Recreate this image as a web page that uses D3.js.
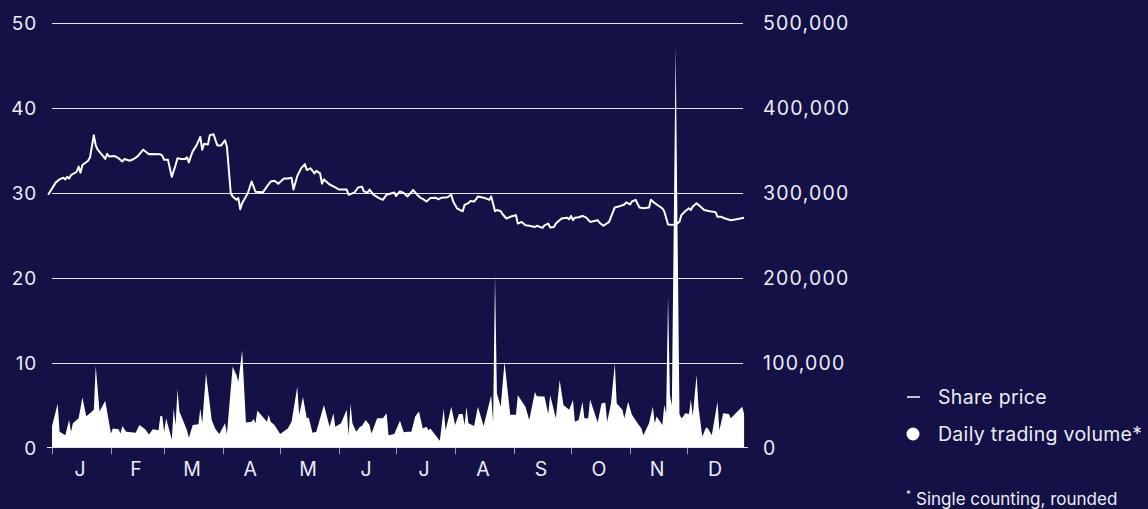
<!DOCTYPE html>
<html>
<head>
<meta charset="utf-8">
<script src="https://cdn.jsdelivr.net/npm/d3@7"></script>
<style>
  html, body { margin: 0; padding: 0; background: #131146; }
  svg { display: block; }
  text { font-family: Inter, "Noto Sans", sans-serif; fill: #ececf4; }
</style>
</head>
<body>
<svg id="chart" width="1148" height="509"></svg>
<script>
// Share price (EUR) by day of year (0 = 1 January)
const priceDays = [-2, 2, 4, 6, 7, 8, 9, 10, 13, 14, 15, 16, 19, 20, 22, 23, 24, 27, 28, 29, 30, 33, 35, 37, 38, 41, 43, 45, 48, 51, 52, 57, 58, 59, 61, 63, 65, 66, 68, 70, 71, 72, 73, 74, 76, 78, 79, 80, 82, 83, 85, 86, 87, 89, 91, 92,
  94, 95, 97, 98, 99, 100, 102, 103, 105, 107, 111, 113, 115, 117, 119, 122, 124, 126, 127, 129, 131, 133, 134, 136, 138, 139, 141, 142, 143, 146, 149, 151, 155, 156, 159, 161, 163, 164, 166, 167, 169, 172, 174, 176, 180, 181, 183, 185, 187, 190, 192,
  194, 195, 197, 199, 202, 203, 205, 208, 210, 211, 213, 216, 217, 219, 220, 222, 223, 224, 227, 230, 231, 233, 234, 236, 237, 239, 241, 244, 245, 247, 249, 251, 254, 255, 258, 259, 261, 262, 264, 265, 268, 271, 272, 273, 274, 275, 277, 279, 281, 283, 287, 288, 290,
  293, 294, 296, 298, 301, 302, 304, 305, 307, 308, 309, 311, 314, 315, 317, 319, 321, 322, 324, 326, 328, 330, 331, 333, 335, 336, 337, 339, 341, 343, 346, 349, 350, 352, 354, 357, 360, 364];
const priceValues = [29.8, 31.25, 31.6, 31.8, 31.6, 31.9, 31.7, 32.1, 32.5, 33.1, 32.4, 33.3, 33.8, 34.2, 36.8, 35.6, 35.1, 34.3, 34.0, 34.6, 34.3, 34.35, 34.1, 33.7, 34.0, 33.8, 34.0, 34.3, 35.1, 34.55, 34.6, 34.55, 34.4, 33.9, 33.9, 31.9, 33.3, 34.1, 34.0, 34.0, 34.2, 33.6, 34.3, 34.9, 35.6, 36.6, 35.1, 35.8, 35.7, 36.8, 36.9, 36.2, 35.6, 35.6, 36.2, 35.45,
  30.0, 29.6, 29.2, 29.4, 28.1, 28.8, 29.6, 30.0, 31.35, 30.15, 30.1, 30.75, 31.35, 31.45, 31.1, 31.7, 31.7, 31.8, 30.4, 32.0, 32.9, 33.4, 32.7, 32.9, 32.3, 32.6, 32.3, 31.1, 31.6, 31.0, 30.65, 30.4, 30.4, 29.8, 30.05, 30.65, 30.75, 30.2, 30.05, 30.4, 29.8, 29.4, 29.2, 29.8, 30.05, 29.65, 30.2, 30.0, 29.6, 30.35, 29.8,
  29.4, 29.3, 29.0, 29.4, 29.45, 29.25, 29.45, 29.5, 29.8, 29.0, 28.2, 27.85, 28.6, 28.8, 29.05, 29.0, 29.25, 29.6, 29.45, 29.2, 29.6, 27.85, 28.0, 27.85, 27.5, 27.0, 27.2, 27.4, 26.4, 26.6, 26.2, 26.15, 26.0, 26.15, 25.9, 26.2, 26.4, 25.95, 26.0, 26.4, 27.0, 27.1, 26.9, 27.3, 26.8, 27.1, 27.15, 27.3, 27.1, 26.6, 26.8, 26.5, 26.15,
  26.6, 27.2, 28.3, 28.4, 28.65, 28.9, 28.65, 29.0, 29.2, 28.7, 28.3, 28.2, 28.3, 29.2, 28.8, 28.5, 28.2, 27.85, 26.3, 26.25, 26.3, 26.6, 27.4, 27.85, 28.2, 28.0, 28.4, 28.8, 28.4, 28.0, 27.85, 27.75, 27.2, 27.2, 27.0, 26.8, 26.9, 27.1];

// Daily trading volume (shares) by day of year
const volumeDays = [0, 3, 4, 7, 9, 10, 11, 14, 16, 18, 20, 22, 23, 25, 28, 31, 32, 35, 36, 37, 39, 44, 46, 49, 51, 53, 56, 57, 58, 59, 60, 63, 64, 65, 66, 67, 71, 72, 74, 77, 78, 79, 81, 84, 86, 88, 91, 92,
  95, 97, 98, 100, 102, 105, 106, 107, 108, 113, 114, 115, 117, 120, 124, 126, 129, 130, 132, 134, 135, 137, 139, 143, 146, 148, 149, 152, 155, 156, 157, 158, 160, 162, 163, 165, 167, 168, 171, 174, 176, 177, 180,
  183, 185, 187, 189, 190, 191, 193, 195, 197, 198, 199, 201, 204, 206, 207, 210, 212, 214, 216, 217, 218, 219, 222, 224, 227, 231, 232, 233, 234, 236, 238, 241, 244, 245, 249, 251, 254, 255, 259, 261, 262, 265, 267, 269,
  272, 274, 275, 277, 279, 280, 282, 283, 287, 289, 291, 292, 294, 296, 297, 300, 301, 303, 305, 308, 310, 311, 314, 316, 317, 318, 321, 322, 323, 324, 325, 326, 328, 330, 331, 332, 333, 335, 336, 337, 339, 340, 342, 344, 345, 347, 350, 351, 353, 356, 357, 363, 364];
const volumeValues = [26000, 52000, 19000, 15000, 33000, 19000, 29000, 35000, 59500, 37500, 41000, 45000, 96500, 43000, 55500, 17000, 23000, 22000, 17000, 26000, 19000, 18000, 27000, 22000, 16000, 22000, 21000, 38000, 37500, 19000, 35000, 10000, 46500, 27000, 69000, 43000, 21000, 12000, 27000, 28000, 46500, 29000, 88000, 33000, 22000, 16500, 29000, 16500,
  95500, 86000, 78000, 115000, 30000, 31000, 34000, 29000, 44000, 31000, 39000, 31000, 27000, 16500, 23000, 31000, 72000, 39000, 60000, 35000, 36000, 18000, 19000, 50500, 25000, 41000, 25000, 29000, 45000, 15000, 52000, 29000, 19000, 25000, 26000, 33000, 27000, 17000, 35000, 35000, 41000, 15000, 16500,
  32000, 18500, 19000, 19000, 28000, 37000, 43000, 23000, 25000, 21000, 23000, 17000, 8500, 46500, 21000, 48500, 27000, 40000, 40000, 27000, 48500, 29000, 26000, 48500, 26000, 62000, 31000, 203500, 64000, 48500, 101500, 39000, 39000, 62000, 48500, 33000, 66000, 61000, 60500, 40000, 62000, 35000, 80000, 50500,
  45000, 56500, 31000, 33000, 54500, 35000, 35000, 57000, 30000, 52500, 53500, 31000, 52500, 99500, 52500, 45000, 35000, 54500, 39000, 29000, 23000, 15000, 29000, 48500, 29000, 37000, 27000, 50500, 41000, 178000, 62000, 50000, 472000, 40000, 35000, 37000, 41000, 40000, 57000, 38000, 86000, 48500, 13500, 24000, 23000, 15000, 54500, 21000, 41000, 40000, 35000, 48500, 40000];

const priceTicks = [0, 10, 20, 30, 40, 50];
const volumeTicks = [0, 100000, 200000, 300000, 400000, 500000];
const monthLabels = ["J", "F", "M", "A", "M", "J", "J", "A", "S", "O", "N", "D"];
const legendLabels = ["Share price", "Daily trading volume*"];
const footnoteText = "Single counting, rounded";

const YEAR = 2023;
const dayToDate = d => new Date(Date.UTC(YEAR, 0, 1 + d));

const svg = d3.select("#chart");
const plotLeft = 52, plotRight = 746, plotTop = 23, plotBottom = 448, gridEnd = 743;

const x = d3.scaleUtc()
  .domain([new Date(Date.UTC(YEAR, 0, 1)), new Date(Date.UTC(YEAR + 1, 0, 1))])
  .range([plotLeft, plotRight]);
const yPrice = d3.scaleLinear().domain([0, 50]).range([plotBottom, plotTop]);
const yVolume = d3.scaleLinear().domain([0, 500000]).range([plotBottom, plotTop]);

const crisp = v => Math.round(v) + 0.5;

// horizontal gridlines
svg.append("g")
  .selectAll("line")
  .data(priceTicks.filter(t => t > 0))
  .join("line")
  .attr("x1", plotLeft).attr("x2", gridEnd)
  .attr("y1", d => crisp(yPrice(d))).attr("y2", d => crisp(yPrice(d)))
  .attr("stroke", "#e4e4ee").attr("stroke-width", 1);

// volume area
const volumeData = volumeDays.map((d, i) => ({ date: dayToDate(d), value: volumeValues[i] }));
svg.append("path")
  .datum(volumeData)
  .attr("fill", "#ffffff")
  .attr("d", d3.area()
    .x(d => x(d.date))
    .y0(yVolume(0))
    .y1(d => yVolume(d.value)));

// share price line
const priceData = priceDays.map((d, i) => ({ date: dayToDate(d), value: priceValues[i] }));
svg.append("path")
  .datum(priceData)
  .attr("fill", "none")
  .attr("stroke", "#ffffff")
  .attr("stroke-width", 2)
  .attr("stroke-linejoin", "round")
  .attr("d", d3.line()
    .x(d => x(d.date))
    .y(d => yPrice(d.value)));

// baseline
svg.append("line")
  .attr("x1", 47).attr("x2", 748)
  .attr("y1", crisp(yPrice(0)) - 1).attr("y2", crisp(yPrice(0)) - 1)
  .attr("stroke", "#e4e4ee").attr("stroke-width", 1);

// month ticks and labels
const months = d3.utcMonth.range(x.domain()[0], x.domain()[1]);
const xAxis = svg.append("g");
xAxis.selectAll("line")
  .data(months)
  .join("line")
  .attr("x1", d => crisp(x(d))).attr("x2", d => crisp(x(d)))
  .attr("y1", plotBottom).attr("y2", plotBottom + 6)
  .attr("stroke", "#9d9cbb").attr("stroke-width", 1);
xAxis.selectAll("text")
  .data(months)
  .join("text")
  .attr("x", d => (x(d) + x(d3.utcMonth.offset(d, 1))) / 2 - 1.5)
  .attr("y", 476)
  .attr("text-anchor", "middle")
  .style("font-size", "19.5px")
  .text((d, i) => monthLabels[i]);

// left axis labels
svg.append("g")
  .selectAll("text")
  .data(priceTicks)
  .join("text")
  .attr("x", 37)
  .attr("y", d => yPrice(d))
  .attr("dy", "0.36em")
  .attr("text-anchor", "end")
  .style("font-size", "19px")
  .style("letter-spacing", "0.8px")
  .text(d => d);

// right axis labels
const fmt = d3.format(",");
svg.append("g")
  .selectAll("text")
  .data(volumeTicks)
  .join("text")
  .attr("x", 763)
  .attr("y", d => yVolume(d))
  .attr("dy", "0.36em")
  .attr("text-anchor", "start")
  .style("font-size", "19.5px")
  .style("letter-spacing", "1.2px")
  .text(d => fmt(d));

// legend
const legend = svg.append("g");
legend.append("line")
  .attr("x1", 907).attr("x2", 920)
  .attr("y1", 397).attr("y2", 397)
  .attr("stroke", "#ffffff").attr("stroke-width", 1.5);
legend.append("circle")
  .attr("cx", 913).attr("cy", 434).attr("r", 6.5)
  .attr("fill", "#ffffff");
legend.selectAll("text.lbl")
  .data(legendLabels)
  .join("text")
  .attr("class", "lbl")
  .attr("x", 938)
  .attr("y", (d, i) => 404 + i * 37)
  .style("font-size", "19.5px")
  .style("letter-spacing", "0.3px")
  .text(d => d);

const note = svg.append("text")
  .attr("x", 906)
  .attr("y", 502)
  .style("font-size", "17px");
note.append("tspan").attr("dy", "-0.45em").style("font-size", "10px").text("*");
note.append("tspan").attr("dy", "0.45em").attr("dx", "5").text(footnoteText);
</script>
</body>
</html>
